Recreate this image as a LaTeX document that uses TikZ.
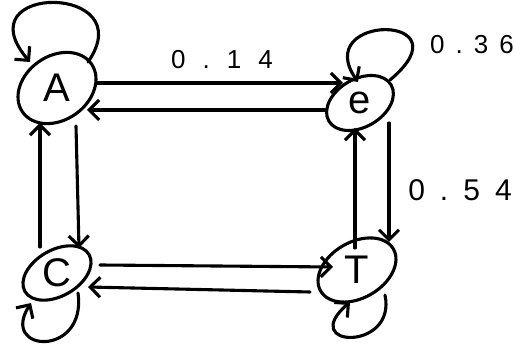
\documentclass[tikz,border=0pt]{standalone}
\usepackage{fontspec}
\setmainfont{Liberation Sans}
\usetikzlibrary{shapes.geometric,arrows.meta,calc}
\begin{document}
\begin{tikzpicture}[x=1pt,y=-1pt, line width=3.1pt, line cap=round,
  state/.style={draw, ellipse, inner sep=0pt},
  arr/.style={-{Straight Barb[length=10pt,width=20pt]}},
  lbl/.style={font=\fontsize{26}{26}\selectfont},
  letter/.style={font=\fontsize{40}{40}\selectfont}]
\useasboundingbox (0,0) rectangle (515,347);
% states
\node[state, minimum width=84pt, minimum height=64pt, rotate=35] (A) at (57,88) {};
\node[letter] (Al) at (A) {A};
\node[state, minimum width=72pt, minimum height=48pt, rotate=30] (e) at (360,103) {};
\node[letter] (el) at (e) {e};
\node[state, minimum width=74pt, minimum height=46pt, rotate=30] (C) at (57,273) {};
\node[letter] (Cl) at (C) {C};
\node[state, minimum width=84pt, minimum height=56pt, rotate=30] (T) at (357,270) {};
\node[letter] (Tl) at (T) {T};
% transitions
\draw[arr] ($(A)+(40,-5)$) -- ($(e)+(-17,-20)$);
\draw[arr] ($(e)+(-35,7)$) -- ($(A)+(30,22)$);
\draw[arr] ($(C)+(-17,-26)$) -- ($(A)+(-17,35)$);
\draw[arr] ($(A)+(19,38)$) -- ($(C)+(22,-25)$);
\draw[arr] ($(T)+(-2,-22)$) -- ($(e)+(-5,25)$);
\draw[arr] ($(e)+(29,20)$) -- ($(T)+(32,-28)$);
\draw[arr] ($(C)+(43,-8)$) -- ($(T)+(-24,-3)$);
\draw[arr] ($(T)+(-47,22)$) -- ($(C)+(31,14)$);
% self loops
\draw[arr] ($(A)+(31,-26)$) .. controls ($(A)+(86,-105)$) and ($(A)+(-95,-105)$) .. ($(A)+(-27,-26)$);
\draw[arr] ($(e)+(30,-23)$) .. controls ($(e)+(110,-90)$) and ($(e)+(-50,-90)$) .. ($(e)+(-2,-21)$);
\draw[arr] ($(C)+(21,20)$) .. controls ($(C)+(30,85)$) and ($(C)+(-58,80)$) .. ($(C)+(-26,30)$);
\draw[arr] ($(T)+(28,25)$) .. controls ($(T)+(40,82)$) and ($(T)+(-60,78)$) .. ($(T)+(-7,32)$);
% labels
\node[lbl] (p14) at (222,60) {0\kern17pt.\kern17pt1\kern17pt4};
\node[lbl] (p36) at (472,45) {0\kern11pt.\kern11pt3\kern11pt6};
\node[lbl, font=\fontsize{30}{30}\selectfont] (p54) at (460,190) {0\kern15pt.\kern15pt5\kern15pt4};
\end{tikzpicture}
\end{document}
